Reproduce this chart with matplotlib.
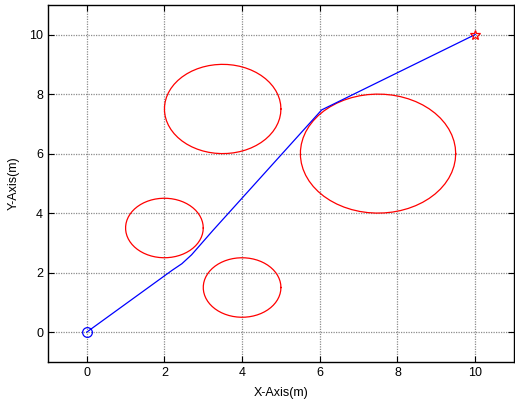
import numpy as np
import matplotlib
matplotlib.use('Agg')
import matplotlib.pyplot as plt

# obstacles (centro x, centro y, raio)
obs_x = [2.0, 4.0, 3.5, 7.5]
obs_y = [3.5, 1.5, 7.5, 6.0]
obs_r = [1.0, 1.0, 1.5, 2.0]

# caminho planejado
path_x = [0.0, 2.2, 2.45, 2.7, 3.25, 6.05, 10.0]
path_y = [0.0, 2.08, 2.3, 2.6, 3.42, 7.47, 10.0]

start = (0, 0)
goal = (10, 10)

xticks = [0, 2, 4, 6, 8, 10]
yticks = [0, 2, 4, 6, 8, 10]

plt.rcParams['font.family'] = ['Liberation Sans', 'DejaVu Sans']

fig = plt.figure(figsize=(5.15, 4.03), dpi=100)
ax = fig.add_axes([0.093, 0.102, 0.905, 0.886])

t = np.linspace(0, 2 * np.pi, 60)
for cx, cy, r in zip(obs_x, obs_y, obs_r):
    ax.plot(cx + r * np.cos(t), cy + r * np.sin(t), color='red', lw=0.9)

ax.plot(path_x, path_y, color='blue', lw=0.9)
ax.plot(*start, marker='o', color='blue', mfc='none', ms=7, mew=0.9)
ax.plot(*goal, marker='*', color='red', mfc='none', ms=7, mew=0.9)

ax.set_xlim(-1, 11)
ax.set_ylim(-1, 11)
ax.set_xticks(xticks)
ax.set_yticks(yticks)
ax.tick_params(direction='in', top=True, right=True, length=4, labelsize=9)
ax.grid(True, color='0.55', linestyle=(0, (1, 1)), linewidth=0.9)
ax.set_axisbelow(True)
for s in ax.spines.values():
    s.set_linewidth(1.0)

ax.set_xlabel('X-Axis(m)', fontsize=9, labelpad=6)
ax.set_ylabel('Y-Axis(m)', fontsize=9, labelpad=7)

fig.savefig('out.png', dpi=100)
